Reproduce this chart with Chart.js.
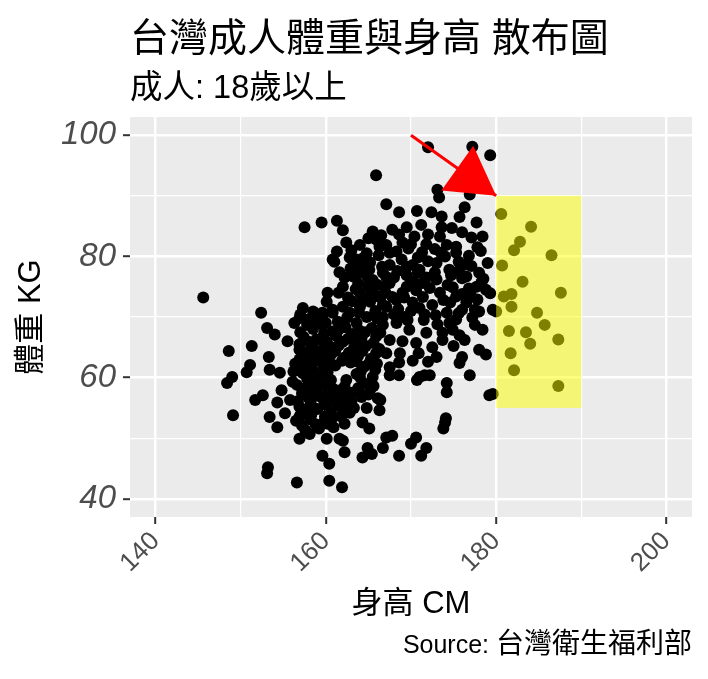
<!DOCTYPE html>
<html lang="zh-Hant">
<head>
  <meta charset="UTF-8">
  <title>台灣成人體重與身高 散布圖</title>
  <script src="https://cdn.jsdelivr.net/npm/chart.js"></script>
  <style>
    body {
      margin: 0;
      background: #ffffff;
      font-family: 'Liberation Sans', 'Noto Sans CJK TC', sans-serif;
    }

    .wrap {
      position: relative;
      width: 708px;
      height: 679px;
      overflow: hidden;
    }

    #chart {
      position: absolute;
      left: 0;
      top: 0;
    }

    .txt {
      position: absolute;
      white-space: nowrap;
      line-height: 1;
      color: #000000;
    }

    #title { left: 130px; top: 18px; font-size: 39px; }
    #subtitle { left: 130px; top: 71px; font-size: 32.5px; }
    #xTitle { left: 130px; width: 562px; top: 587px; font-size: 31px; text-align: center; }
    #yTitle { left: -169px; top: 300px; width: 400px; height: 34px; font-size: 31px; text-align: center; transform: rotate(-90deg); }
    #caption { right: 16px; top: 630px; font-size: 25px; }
    #caption .cjk { font-size: 28px; }
  </style>
</head>
<body>
  <div class="wrap">
    <canvas id="chart" width="708" height="679"></canvas>
    <div class="txt" id="title">台灣成人體重與身高 散布圖</div>
    <div class="txt" id="subtitle">成人: 18歲以上</div>
    <div class="txt" id="xTitle">身高 CM</div>
    <div class="txt" id="yTitle">體重 KG</div>
    <div class="txt" id="caption">Source: <span class="cjk">台灣衛生福利部</span></div>
  </div>

  <script>
    // [身高 cm, 體重 kg]
    const heightWeight = [
      [157.5, 84.8], [159.5, 85.6], [161.3, 85.9], [162.0, 84.3], [162.4, 82.3],
      [161.3, 80.8], [160.8, 79.5], [161.6, 77.4], [162.2, 76.5], [145.6, 73.2],
      [152.4, 70.7], [157.3, 71.5], [156.3, 69.0], [157.8, 68.7], [159.6, 70.7],
      [160.8, 70.7], [160.2, 74.0], [161.5, 74.0], [159.6, 68.7], [153.1, 68.2],

      [154.0, 67.1], [151.3, 65.2], [148.6, 64.4], [153.3, 63.4], [155.5, 66.0],
      [156.9, 65.5], [160.1, 65.9], [151.1, 62.1], [150.7, 60.9], [153.4, 61.3],
      [154.6, 60.8], [149.0, 60.1], [148.4, 59.1], [156.1, 59.3], [154.8, 57.9],
      [151.7, 56.3], [152.6, 57.1], [154.3, 55.9], [155.8, 56.3], [155.2, 54.1],
      [153.4, 53.5], [154.3, 51.8], [156.9, 53.5], [149.1, 53.8], [156.9, 49.9],
      [158.1, 50.7], [160.1, 49.9], [161.6, 49.9], [159.6, 47.1], [160.4, 45.8],
      [162.2, 47.7], [153.2, 45.2], [153.1, 44.2], [156.6, 42.7], [160.4, 43.0],
      [161.9, 41.9],

      [172.0, 98.0], [177.2, 98.1], [179.3, 96.7], [165.9, 93.4], [173.1, 91.0],
      [173.3, 89.7], [176.9, 90.2], [167.1, 88.6], [168.6, 87.3], [170.7, 87.5],
      [172.4, 87.3], [173.6, 86.6], [176.3, 88.1], [175.7, 86.5], [177.7, 85.6],
      [165.5, 84.1], [168.6, 83.6], [170.4, 83.3], [172.0, 83.6], [173.4, 83.3],
      [174.2, 81.9], [175.3, 81.6], [177.1, 83.1], [178.4, 83.3], [179.0, 78.9],
      [164.0, 81.9], [167.1, 81.9], [165.9, 82.8], [167.5, 80.6], [162.8, 79.8],
      [164.0, 78.6], [165.1, 77.8], [166.7, 77.3], [169.5, 78.3], [171.0, 77.8],
      [173.0, 78.9], [174.5, 77.8], [176.5, 76.7], [178.0, 77.3], [177.7, 75.0],
      [178.8, 74.5], [171.4, 75.6], [169.5, 75.0], [167.5, 75.6], [165.5, 76.1],
      [163.2, 76.7], [162.0, 75.0], [164.0, 74.0], [166.3, 73.4], [169.0, 74.0],
      [173.4, 74.0], [175.3, 73.4], [176.5, 72.4], [171.0, 71.5], [174.2, 70.7],
      [178.0, 70.9], [179.6, 71.2],

      [178.4, 67.9], [178.0, 64.6], [178.8, 63.8], [176.0, 63.4], [175.7, 62.4],
      [176.9, 60.4], [174.2, 59.1], [174.2, 57.6], [179.2, 57.1], [171.6, 60.4],
      [170.7, 59.6], [174.0, 52.6], [173.8, 51.6], [170.6, 50.1], [170.0, 49.1],
      [171.8, 48.4], [171.2, 47.1], [168.6, 47.1], [167.1, 50.1], [167.8, 50.4],
      [166.7, 48.4], [164.9, 48.4], [164.3, 46.8], [165.4, 47.4], [162.0, 49.6],
      [165.1, 51.6], [164.3, 52.6], [162.2, 52.4], [166.1, 56.6], [164.8, 55.0],
      [166.3, 54.6], [162.2, 54.6], [162.4, 56.3], [163.8, 57.9], [162.4, 59.6],
      [165.5, 60.1], [171.0, 60.1], [172.2, 60.4], [168.6, 60.4], [167.5, 60.4],

      [180.6, 87.0], [184.1, 84.9], [182.8, 82.4], [182.1, 81.0], [186.5, 80.2],
      [180.7, 78.5], [183.1, 75.8], [187.6, 74.0], [180.9, 73.4], [181.8, 73.8],
      [181.8, 71.7], [184.8, 70.7], [185.7, 68.7], [181.5, 67.7], [183.5, 67.5],
      [184.0, 65.6], [187.3, 66.3], [181.7, 64.0], [182.1, 61.2], [187.3, 58.6],
      [180.0, 70.9], [179.6, 57.3],

      [175.3, 80.6], [175.6, 79.1], [178.3, 75.8], [179.3, 73.9], [176.0, 71.2],
      [177.5, 71.2], [174.9, 67.9], [176.3, 66.2], [174.1, 53.3],

      [161.0, 79.1], [163.6, 79.5], [165.2, 79.0], [163.6, 76.9], [164.9, 76.6],
      [166.6, 78.3], [166.1, 75.3], [166.9, 74.9], [165.2, 74.8], [160.1, 72.5],
      [160.8, 71.2], [162.0, 71.7], [162.8, 70.7], [159.6, 70.0], [156.9, 69.8],
      [164.0, 71.7], [165.2, 72.5], [166.4, 73.2], [167.1, 71.7], [164.8, 70.0],
      [166.0, 69.8], [163.6, 69.0],

      [167.5, 78.6], [167.1, 76.6], [170.2, 78.6], [170.8, 77.3], [169.5, 76.9],
      [172.8, 77.4], [174.7, 76.9], [176.0, 76.4], [170.6, 74.4], [172.2, 74.8],
      [174.9, 74.9], [167.8, 73.3], [169.2, 73.2], [171.4, 73.3], [166.7, 72.0],
      [166.7, 70.0], [169.2, 70.0], [174.5, 69.0], [177.5, 68.7],

      [166.7, 68.7], [168.3, 69.0], [169.8, 67.9], [171.8, 67.4], [173.7, 67.4],
      [175.7, 67.0], [167.5, 66.2], [170.6, 65.7], [172.5, 65.0], [173.7, 66.2],
      [167.1, 64.0], [168.7, 64.0], [167.5, 61.7], [173.0, 63.4], [166.4, 56.3],

      [158.5, 68.0], [160.8, 67.6], [162.3, 68.3], [163.9, 67.8], [165.4, 68.2],
      [157.4, 66.7], [158.9, 66.3], [161.2, 66.9], [162.6, 66.4], [164.2, 66.6],
      [165.9, 66.8], [156.9, 64.6], [158.4, 65.2], [159.7, 64.8], [161.5, 65.3],
      [163.3, 64.9], [164.7, 65.2], [166.3, 64.7], [157.6, 63.5], [159.1, 63.2],
      [160.6, 63.8], [162.2, 63.3], [163.8, 63.6], [165.3, 63.1], [156.4, 62.3],
      [158.2, 61.9], [159.6, 62.4], [161.1, 62.0], [162.9, 62.5], [164.5, 61.8],
      [166.0, 62.3], [157.3, 60.7], [158.8, 60.4], [160.2, 60.9], [163.6, 60.6],
      [156.6, 58.8], [158.1, 59.2], [159.9, 58.7], [164.4, 59.1], [165.6, 58.6],
      [157.2, 57.4], [158.7, 57.8], [160.3, 57.3], [161.7, 57.9], [163.1, 57.5],
      [165.0, 57.2], [156.7, 56.1], [158.2, 55.7], [159.8, 56.2], [161.3, 55.8],
      [163.0, 56.0], [157.5, 54.4], [159.0, 54.8], [160.6, 54.3], [161.8, 53.6],
      [156.5, 52.9], [158.2, 53.1], [159.8, 52.7], [160.9, 51.8], [157.6, 51.3],
      [159.2, 51.6], [161.4, 69.2], [165.8, 71.0], [163.1, 72.6], [163.5, 74.6],
      [164.6, 73.2],

      [157.9, 69.6], [159.0, 69.3], [162.5, 69.9], [157.0, 67.5], [159.8, 67.3],
      [161.5, 67.9], [163.1, 67.2], [164.6, 67.5], [166.4, 67.4], [158.0, 65.9],
      [160.5, 65.1], [162.0, 65.9], [163.7, 65.9], [165.6, 65.7], [157.8, 64.2],
      [159.0, 64.0], [161.1, 64.4], [162.7, 64.1], [164.3, 64.4], [165.9, 64.0],
      [156.9, 63.0], [158.6, 62.7], [160.4, 62.6], [161.9, 62.8], [163.6, 62.7],
      [165.1, 62.4], [157.0, 61.4], [158.5, 61.2], [159.8, 61.5], [164.1, 61.0],
      [165.8, 61.3], [156.2, 61.0], [157.8, 59.8], [159.3, 59.9], [160.6, 59.6],
      [164.0, 60.1], [157.5, 58.2], [159.0, 58.4], [160.8, 58.2], [162.2, 58.5],
      [163.8, 58.3], [165.2, 58.0], [157.9, 56.8], [159.4, 56.9], [160.9, 56.7],
      [162.5, 56.9], [164.2, 56.8], [156.9, 55.2], [158.6, 55.0], [160.1, 55.4],
      [161.7, 55.2], [163.3, 55.0], [158.3, 53.9], [159.9, 53.6], [157.0, 53.8],
      [158.8, 52.3], [157.2, 52.1], [160.2, 52.4],

      [163.0, 81.0], [164.8, 80.5], [166.2, 80.2], [168.3, 80.8], [169.7, 81.3],
      [171.3, 80.7], [172.8, 81.2], [174.0, 80.0], [176.8, 80.1], [178.2, 80.9],
      [163.4, 78.2], [168.4, 77.6], [172.0, 79.2], [175.6, 77.6], [177.1, 78.4],
      [163.8, 75.5], [168.0, 76.5], [170.3, 75.8], [173.0, 76.2], [176.8, 74.7],
      [162.6, 73.2], [165.6, 73.7], [168.3, 72.8], [170.2, 72.4], [172.5, 72.0],
      [174.6, 72.4], [177.8, 72.9], [163.9, 70.7], [168.5, 71.3], [170.0, 71.0],
      [172.9, 70.3], [175.6, 70.6], [177.2, 69.9], [169.5, 84.8], [171.2, 85.2],
      [174.8, 84.7], [170.0, 82.0], [166.5, 83.5], [169.0, 66.0], [170.9, 64.0],
      [168.6, 62.5], [170.2, 62.8], [172.0, 62.6], [171.5, 69.5], [173.1, 68.8],
      [175.0, 65.2], [169.6, 69.5],

      [165.0, 83.0], [167.8, 84.4], [169.0, 82.3], [171.8, 82.0], [173.6, 84.8],
      [176.0, 84.0], [177.8, 81.5], [164.5, 79.8], [166.3, 81.6], [168.9, 79.5],
      [170.8, 79.8], [173.5, 80.6], [176.2, 78.6], [178.5, 76.3], [165.0, 75.2],
      [167.0, 74.0], [171.8, 76.5], [174.3, 75.3], [176.0, 73.8], [164.2, 72.4],
      [168.0, 70.4], [171.6, 70.4], [173.8, 72.8], [175.3, 69.6], [177.0, 73.7],
      [162.9, 78.0], [164.6, 77.2], [157.0, 70.4], [158.5, 70.9], [160.0, 69.0],
      [158.2, 63.9], [160.0, 63.4], [157.4, 62.0], [158.9, 57.0], [161.2, 56.8],
      [158.0, 54.5], [160.7, 53.2], [162.8, 54.2]
    ];

    const xRange = [137, 203];
    const yRange = [37, 103];
    const xGridValues = [140, 150, 160, 170, 180, 190, 200];
    const yGridValues = [40, 50, 60, 70, 80, 90, 100];
    const xTickLabels = [140, 160, 180, 200];
    const yTickLabels = [40, 60, 80, 100];

    // highlighted box and arrow
    const boxX = [180, 190];
    const boxY = [55, 90];
    const arrowFrom = [170, 100];
    const arrowTo = [180, 90];

    const panelBg = {
      id: 'panelBg',
      beforeDraw(chart) {
        const { ctx, chartArea } = chart;
        ctx.save();
        ctx.fillStyle = '#EBEBEB';
        ctx.fillRect(chartArea.left, chartArea.top, chartArea.right - chartArea.left, chartArea.bottom - chartArea.top);
        ctx.restore();
      }
    };

    const highlight = {
      id: 'highlight',
      afterDatasetsDraw(chart) {
        const ctx = chart.ctx;
        const xs = chart.scales.x;
        const ys = chart.scales.y;

        ctx.save();
        const x0 = xs.getPixelForValue(boxX[0]);
        const x1 = xs.getPixelForValue(boxX[1]);
        const y0 = ys.getPixelForValue(boxY[1]);
        const y1 = ys.getPixelForValue(boxY[0]);
        ctx.fillStyle = 'rgba(255, 255, 0, 0.5)';
        ctx.fillRect(x0, y0, x1 - x0, y1 - y0);

        const sx = xs.getPixelForValue(arrowFrom[0]);
        const sy = ys.getPixelForValue(arrowFrom[1]);
        const tx = xs.getPixelForValue(arrowTo[0]);
        const ty = ys.getPixelForValue(arrowTo[1]);
        ctx.strokeStyle = '#FF0000';
        ctx.fillStyle = '#FF0000';
        ctx.lineWidth = 3;
        ctx.beginPath();
        ctx.moveTo(sx, sy);
        ctx.lineTo(tx, ty);
        ctx.stroke();

        const ang = Math.atan2(ty - sy, tx - sx);
        const len = 55;
        const spread = Math.PI / 6;
        ctx.beginPath();
        ctx.moveTo(tx, ty);
        ctx.lineTo(tx - len * Math.cos(ang - spread), ty - len * Math.sin(ang - spread));
        ctx.lineTo(tx - len * Math.cos(ang + spread), ty - len * Math.sin(ang + spread));
        ctx.closePath();
        ctx.fill();
        ctx.restore();
      }
    };

    function gridWidth(ctx, labels) {
      return labels.includes(ctx.tick.value) ? 2.4 : 1.2;
    }

    function tickColor(ctx, labels) {
      return labels.includes(ctx.tick.value) ? '#333333' : 'rgba(0,0,0,0)';
    }

    new Chart(document.getElementById('chart'), {
      type: 'scatter',
      data: {
        datasets: [{
          data: heightWeight.map(p => ({ x: p[0], y: p[1] })),
          backgroundColor: '#000000',
          borderWidth: 0,
          pointRadius: 6,
          pointHoverRadius: 6
        }]
      },
      options: {
        responsive: false,
        animation: false,
        events: [],
        layout: { padding: { top: 117, right: 16, bottom: 0, left: 0 } },
        plugins: {
          legend: { display: false },
          tooltip: { enabled: false }
        },
        scales: {
          x: {
            type: 'linear',
            min: xRange[0],
            max: xRange[1],
            afterBuildTicks: s => { s.ticks = xGridValues.map(v => ({ value: v })); },
            afterFit: s => { s.height = 162; },
            border: { display: false },
            grid: {
              color: '#FFFFFF',
              lineWidth: ctx => gridWidth(ctx, xTickLabels),
              tickColor: ctx => tickColor(ctx, xTickLabels),
              tickLength: 7,
              tickWidth: 2
            },
            ticks: {
              autoSkip: false,
              minRotation: 45,
              maxRotation: 45,
              padding: 2,
              color: '#4D4D4D',
              font: { family: "'Liberation Sans', sans-serif", size: 26 },
              callback: v => xTickLabels.includes(v) ? String(v) : ''
            }
          },
          y: {
            type: 'linear',
            min: yRange[0],
            max: yRange[1],
            afterBuildTicks: s => { s.ticks = yGridValues.map(v => ({ value: v })); },
            afterFit: s => { s.width = 130; },
            border: { display: false },
            grid: {
              color: '#FFFFFF',
              lineWidth: ctx => gridWidth(ctx, yTickLabels),
              tickColor: ctx => tickColor(ctx, yTickLabels),
              tickLength: 7,
              tickWidth: 2
            },
            ticks: {
              autoSkip: false,
              padding: 7,
              color: '#4D4D4D',
              font: { family: "'Liberation Sans', sans-serif", size: 33, style: 'italic' },
              callback: v => yTickLabels.includes(v) ? String(v) : ''
            }
          }
        }
      },
      plugins: [panelBg, highlight]
    });
  </script>
</body>
</html>
